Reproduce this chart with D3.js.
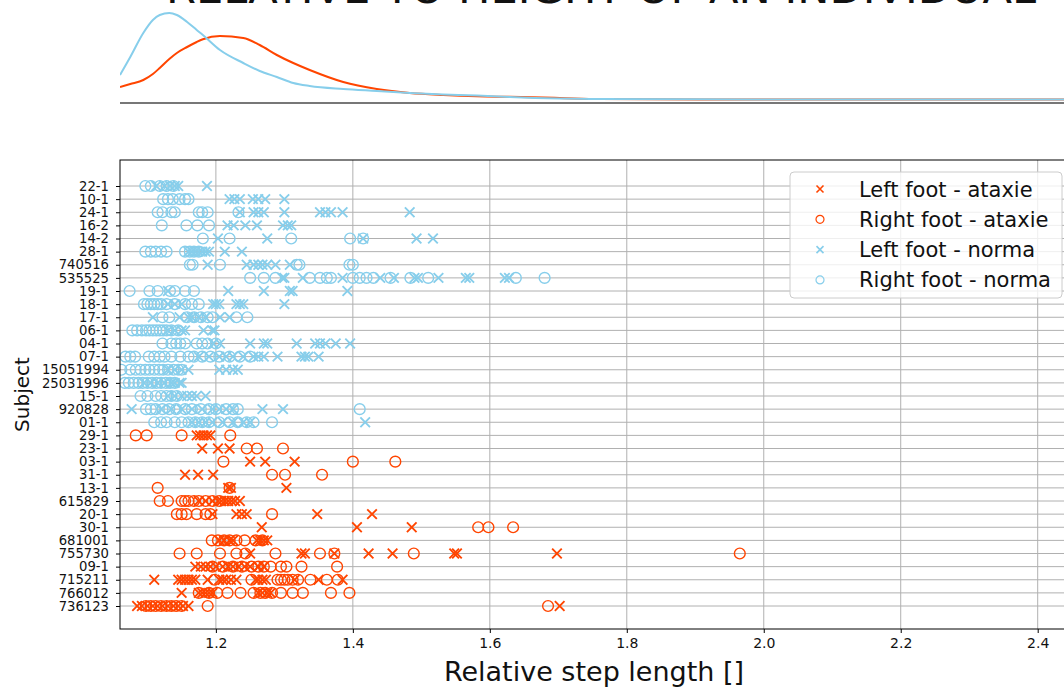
<!DOCTYPE html>
<html>
<head>
<meta charset="utf-8">
<script src="https://cdn.jsdelivr.net/npm/d3@7"></script>
<style>
  body { margin: 0; background: #fff; }
  svg { display: block; font-family: "DejaVu Sans", sans-serif; }
</style>
</head>
<body>
<svg id="chart" width="1064" height="689"></svg>
<script>
// titre (coupé en haut dans l'original)
const title = "RELATIVE TO HEIGHT OF AN INDIVIDUAL";

// sujets, de haut en bas ; les 19 premiers sont "norma", les autres "ataxie"
const subjects = ["22-1","10-1","24-1","16-2","14-2","28-1","740516","535525","19-1","18-1","17-1","06-1","04-1","07-1","15051994","25031996","15-1","920828","01-1",
  "29-1","23-1","03-1","31-1","13-1","615829","20-1","30-1","681001","755730","09-1","715211","766012","736123"];
const nNormal = 19;

// longueur de pas relative, pied gauche (x)
const leftFoot = [
  [1.113,1.125,1.133,1.140,1.145,1.187],
  [1.220,1.227,1.235,1.254,1.262,1.272,1.300],
  [1.235,1.255,1.262,1.270,1.300,1.352,1.360,1.368,1.385,1.483],
  [1.217,1.226,1.243,1.260,1.298,1.305,1.310],
  [1.203,1.275,1.415,1.493,1.517],
  [1.160,1.165,1.170,1.175,1.180,1.185,1.190,1.213,1.238],
  [1.188,1.245,1.255,1.262,1.268,1.275,1.287,1.308],
  [1.297,1.300,1.327,1.385,1.440,1.460,1.490,1.495,1.525,1.565,1.570,1.622,1.628],
  [1.130,1.218,1.270,1.308,1.312,1.392],
  [1.130,1.140,1.150,1.196,1.200,1.205,1.230,1.235,1.240,1.300],
  [1.108,1.147,1.160,1.165,1.175,1.185,1.206,1.220],
  [1.130,1.140,1.150,1.155,1.182,1.195,1.198],
  [1.196,1.206,1.250,1.270,1.275,1.318,1.345,1.352,1.360,1.375,1.396],
  [1.175,1.190,1.205,1.215,1.225,1.240,1.255,1.262,1.270,1.290,1.325,1.330,1.335,1.350],
  [1.130,1.140,1.150,1.160,1.205,1.215,1.225,1.232],
  [1.095,1.105,1.115,1.125,1.135,1.140,1.147,1.150],
  [1.130,1.140,1.150,1.158,1.165,1.172,1.185],
  [1.077,1.120,1.135,1.150,1.165,1.180,1.195,1.205,1.215,1.225,1.268,1.298],
  [1.165,1.175,1.185,1.195,1.210,1.225,1.240,1.250,1.418],
  [1.172,1.177,1.182,1.187,1.192],
  [1.180,1.203,1.220],
  [1.250,1.272,1.315],
  [1.155,1.174,1.196],
  [1.218,1.222,1.303],
  [1.175,1.185,1.195,1.203,1.208,1.213,1.218,1.223,1.228,1.235],
  [1.195,1.230,1.238,1.245,1.348,1.428],
  [1.267,1.406,1.486],
  [1.205,1.212,1.220,1.225,1.260,1.265,1.270,1.275],
  [1.250,1.325,1.330,1.373,1.423,1.458,1.548,1.552,1.698],
  [1.170,1.178,1.185,1.192,1.200,1.210,1.218,1.225,1.233,1.242,1.250,1.262,1.270],
  [1.110,1.145,1.150,1.155,1.160,1.165,1.170,1.188,1.205,1.210,1.215,1.222,1.230,1.258,1.262,1.268,1.273,1.315,1.350,1.385],
  [1.150,1.175,1.180,1.185,1.190,1.195,1.262,1.268,1.275,1.280],
  [1.085,1.092,1.100,1.108,1.115,1.122,1.130,1.138,1.145,1.152,1.160,1.702]
];

// longueur de pas relative, pied droit (o)
const rightFoot = [
  [1.097,1.105,1.118,1.128,1.138],
  [1.123,1.130,1.137,1.147,1.155,1.160],
  [1.115,1.122,1.135,1.140,1.175,1.180,1.188,1.233],
  [1.121,1.157,1.173,1.190],
  [1.181,1.220,1.310,1.396,1.415],
  [1.097,1.105,1.112,1.120,1.128,1.155,1.162,1.168,1.175],
  [1.162,1.166,1.206,1.318,1.322,1.395,1.400],
  [1.250,1.270,1.287,1.337,1.352,1.362,1.368,1.400,1.410,1.420,1.430,1.455,1.484,1.510,1.638,1.680],
  [1.074,1.103,1.115,1.133,1.140,1.155,1.168],
  [1.095,1.100,1.105,1.110,1.115,1.120,1.128,1.140,1.155,1.165,1.175],
  [1.122,1.132,1.158,1.168,1.178,1.188,1.195,1.230,1.246],
  [1.078,1.085,1.092,1.098,1.103,1.108,1.113,1.118,1.123,1.128,1.135,1.145],
  [1.122,1.135,1.142,1.148,1.155,1.172,1.180,1.188,1.200],
  [1.068,1.075,1.082,1.102,1.110,1.118,1.125,1.135,1.148,1.160,1.168,1.180,1.192,1.205,1.220,1.235,1.250],
  [1.062,1.075,1.083,1.090,1.097,1.103,1.110,1.117,1.123,1.130,1.138,1.145,1.150],
  [1.067,1.073,1.080,1.087,1.093,1.100,1.107,1.113,1.120,1.127,1.133,1.140],
  [1.090,1.100,1.112,1.120,1.128,1.135,1.143],
  [1.098,1.105,1.112,1.122,1.132,1.142,1.155,1.165,1.178,1.190,1.200,1.215,1.225,1.232,1.410],
  [1.110,1.120,1.128,1.140,1.150,1.160,1.170,1.180,1.190,1.205,1.220,1.232,1.245,1.255,1.282],
  [1.083,1.099,1.150,1.221],
  [1.245,1.260,1.298],
  [1.211,1.400,1.462],
  [1.282,1.301,1.355],
  [1.115,1.220],
  [1.118,1.130,1.150,1.155,1.160,1.168,1.175,1.185,1.195,1.205],
  [1.143,1.150,1.157,1.172,1.185,1.192,1.282],
  [1.583,1.598,1.634],
  [1.194,1.203,1.212,1.220,1.230,1.242,1.258,1.268],
  [1.147,1.172,1.206,1.230,1.243,1.287,1.352,1.373,1.489,1.965],
  [1.195,1.210,1.225,1.238,1.252,1.262,1.270,1.280,1.295,1.303,1.325,1.377],
  [1.198,1.252,1.290,1.295,1.300,1.305,1.312,1.320,1.338,1.362,1.378],
  [1.175,1.190,1.202,1.217,1.236,1.255,1.265,1.272,1.282,1.295,1.312,1.327,1.368,1.395],
  [1.098,1.105,1.112,1.120,1.128,1.135,1.142,1.150,1.188,1.685]
];

const kdeX      = [1.060,1.075,1.094,1.108,1.118,1.132,1.143,1.158,1.172,1.181,1.206,1.240,1.264,1.289,1.313,1.337,1.386,1.435,1.483,1.532,1.581,1.629,1.702,1.760,1.907,2.053,2.345,2.500];
const kdeNormal = [1.75,3.01,4.69,5.60,5.95,6.09,5.95,5.46,4.90,4.55,3.50,2.59,2.03,1.61,1.19,0.98,0.77,0.63,0.49,0.385,0.315,0.21,0.105,0.07,0.05,0.035,0.028,0.028];
const kdeAtaxie = [0.91,1.12,1.40,1.82,2.24,2.87,3.29,3.71,4.06,4.25,4.48,4.34,3.85,3.15,2.59,2.10,1.26,0.77,0.49,0.35,0.26,0.22,0.14,0.07,0.04,0.035,0.028,0.028];

const xTicks = [1.2,1.4,1.6,1.8,2.0,2.2,2.4];
const legendLabels = ["Left foot - ataxie","Right foot - ataxie","Left foot - norma","Right foot - norma"];

const cAtaxie = "#ff4500", cNormal = "#87ceeb";
const box = { left: 120, right: 1074, top: 160, bottom: 629 };

const svg = d3.select("#chart");

const x = d3.scaleLinear().domain([1.06, 2.453]).range([box.left, box.right]);
const y = d3.scalePoint().domain(subjects).range([186, 606]);
const yK = d3.scaleLinear().domain([0, 7]).range([100, 0]);

// titre : seul le bas des lettres est visible
svg.append("text")
  .attr("x", 166).attr("y", 3)
  .attr("textLength", 870).attr("lengthAdjust", "spacingAndGlyphs")
  .attr("font-size", 40)
  .attr("fill", "#111")
  .text(title);

// panneau kde
const kdeLine = vals => d3.line()
  .x((d, i) => x(kdeX[i]))
  .y(d => yK(d))
  .curve(d3.curveMonotoneX)(vals);

const defs = svg.append("defs");
defs.append("clipPath").attr("id", "clipBox")
  .append("rect").attr("x", box.left).attr("y", box.top)
  .attr("width", box.right - box.left).attr("height", box.bottom - box.top);
defs.append("clipPath").attr("id", "clipKde")
  .append("rect").attr("x", box.left).attr("y", 0)
  .attr("width", box.right - box.left).attr("height", 110);

const kde = svg.append("g").attr("clip-path", "url(#clipKde)");
kde.append("line")
  .attr("x1", box.left).attr("x2", box.right)
  .attr("y1", 103).attr("y2", 103)
  .attr("stroke", "#777").attr("stroke-width", 2);
kde.append("path").attr("d", kdeLine(kdeAtaxie))
  .attr("fill", "none").attr("stroke", cAtaxie).attr("stroke-width", 2);
kde.append("path").attr("d", kdeLine(kdeNormal))
  .attr("fill", "none").attr("stroke", cNormal).attr("stroke-width", 2);

// grille
const grid = svg.append("g").attr("stroke", "#b0b0b0").attr("stroke-width", 1);
grid.selectAll(".gx").data(xTicks).join("line")
  .attr("x1", d => x(d)).attr("x2", d => x(d))
  .attr("y1", box.top).attr("y2", box.bottom);
grid.selectAll(".gy").data(subjects).join("line")
  .attr("x1", box.left).attr("x2", box.right)
  .attr("y1", d => y(d)).attr("y2", d => y(d));

// points
const points = [];
subjects.forEach((s, i) => {
  const grp = i < nNormal ? "normal" : "ataxie";
  leftFoot[i].forEach(v => points.push({ s, v, foot: "left", grp }));
  rightFoot[i].forEach(v => points.push({ s, v, foot: "right", grp }));
});

const crossPath = r => `M${-r},${-r}L${r},${r}M${-r},${r}L${r},${-r}`;

const marks = svg.append("g").attr("clip-path", "url(#clipBox)");
const order = [["ataxie","left"],["ataxie","right"],["normal","left"],["normal","right"]];
order.forEach(([grp, foot]) => {
  const col = grp === "ataxie" ? cAtaxie : cNormal;
  const data = points.filter(p => p.grp === grp && p.foot === foot);
  if (foot === "left") {
    marks.append("g").selectAll("path").data(data).join("path")
      .attr("transform", d => `translate(${x(d.v)},${y(d.s)})`)
      .attr("d", crossPath(4.8))
      .attr("fill", "none").attr("stroke", col).attr("stroke-width", 1.9);
  } else {
    marks.append("g").selectAll("circle").data(data).join("circle")
      .attr("cx", d => x(d.v)).attr("cy", d => y(d.s)).attr("r", 5.4)
      .attr("fill", "none").attr("stroke", col).attr("stroke-width", 1.4);
  }
});

// cadre
svg.append("rect")
  .attr("x", box.left).attr("y", box.top)
  .attr("width", box.right - box.left).attr("height", box.bottom - box.top)
  .attr("fill", "none").attr("stroke", "#000").attr("stroke-width", 1);

// axes
const xAxis = svg.append("g")
  .attr("transform", `translate(0,${box.bottom})`)
  .call(d3.axisBottom(x).tickValues(xTicks).tickFormat(d3.format(".1f")).tickSize(4).tickPadding(5));
xAxis.select(".domain").remove();
xAxis.selectAll("text").attr("font-size", 14).attr("font-family", "DejaVu Sans").attr("fill", "#111");

const yAxis = svg.append("g")
  .attr("transform", `translate(${box.left},0)`)
  .call(d3.axisLeft(y).tickSize(4).tickPadding(7));
yAxis.select(".domain").remove();
yAxis.selectAll("text").attr("font-size", 13.2).attr("font-family", "DejaVu Sans").attr("fill", "#111");

svg.append("text")
  .attr("x", 594).attr("y", 681)
  .attr("text-anchor", "middle").attr("font-size", 27).attr("fill", "#111")
  .text("Relative step length []");

svg.append("text")
  .attr("transform", `translate(29,${(box.top + box.bottom) / 2}) rotate(-90)`)
  .attr("text-anchor", "middle").attr("font-size", 20).attr("fill", "#111")
  .text("Subject");

// légende
const leg = svg.append("g").attr("transform", "translate(790,172)");
leg.append("rect")
  .attr("width", 272).attr("height", 126).attr("rx", 4)
  .attr("fill", "#fff").attr("fill-opacity", 0.8)
  .attr("stroke", "#ccc").attr("stroke-width", 1);
legendLabels.forEach((lab, i) => {
  const col = i < 2 ? cAtaxie : cNormal;
  const row = leg.append("g").attr("transform", `translate(30,${17 + i * 30.3})`);
  if (i % 2 === 0) {
    row.append("path").attr("d", crossPath(3.5))
      .attr("fill", "none").attr("stroke", col).attr("stroke-width", 1.6);
  } else {
    row.append("circle").attr("r", 4)
      .attr("fill", "none").attr("stroke", col).attr("stroke-width", 1.2);
  }
  row.append("text").attr("x", 39).attr("y", 7.5)
    .attr("font-size", 21).attr("fill", "#111").text(lab);
});
</script>
</body>
</html>
